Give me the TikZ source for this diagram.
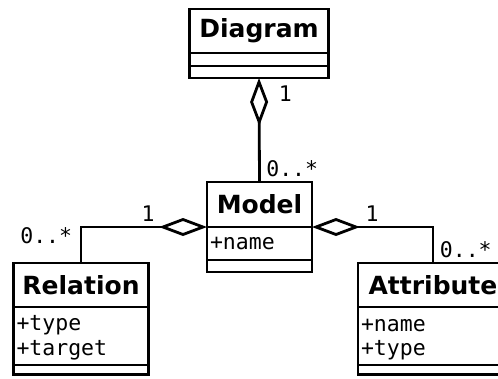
\documentclass[tikz,border=0pt]{standalone}
\usepackage{fontspec}
\setmainfont{DejaVu Sans}
\setmonofont{DejaVu Sans Mono}
\usetikzlibrary{arrows.meta, positioning}

\begin{document}
\begin{tikzpicture}[x=1pt, y=-1pt, line width=2.8pt,
  cname/.style={draw, outer sep=0pt, inner sep=0pt, font=\bfseries\fontsize{25}{29}\selectfont},
  cattr/.style={draw, outer sep=0pt, inner xsep=3pt, inner ysep=0pt, align=left, font=\ttfamily\fontsize{21.5}{24.5}\selectfont},
  cops/.style={draw, outer sep=0pt, inner sep=0pt, minimum height=12pt},
  aggr/.style={{Diamond[open, length=48pt, width=18pt]}-},
  mult/.style={inner sep=0pt, font=\ttfamily\fontsize{21.5}{24.5}\selectfont}]

\useasboundingbox (0,0) rectangle (498,378);
\clip (0,0) rectangle (498,378);

% ---------- Diagram ----------
\node[cname, minimum width=139pt, minimum height=44pt] (diagram) at (259,31) {Diagram};
\node[cops, minimum width=139pt, minimum height=13pt, below=0pt of diagram] (diagram-attr) {};
\node[cops, minimum width=139pt, below=0pt of diagram-attr] (diagram-ops) {};

% ---------- Model ----------
\node[cname, minimum width=105pt, minimum height=45pt] (model) at (259.5,204.5) {Model};
\node[cattr, text width=99pt, minimum width=105pt, minimum height=33pt, below=0pt of model] (model-attr) {+name};
\node[cops, minimum width=105pt, below=0pt of model-attr] (model-ops) {};

% ---------- Relation ----------
\node[cname, minimum width=135pt, minimum height=44pt] (relation) at (81,285) {Relation};
\node[cattr, text width=129pt, minimum width=135pt, minimum height=58pt, below=0pt of relation] (relation-attr) {\rule{0pt}{19pt}+type\\+target};
\node[cops, minimum width=135pt, minimum height=9.5pt, below=0pt of relation-attr] (relation-ops) {};

% ---------- Attribute (runs off the right edge) ----------
\node[cname, minimum width=150pt, minimum height=44pt] (attribute) at (433,285) {Attribute};
\node[cattr, text width=144pt, minimum width=150pt, minimum height=58pt, below=0pt of attribute] (attribute-attr) {\rule{0pt}{19pt}+name\\+type};
\node[cops, minimum width=150pt, minimum height=9.5pt, below=0pt of attribute-attr] (attribute-ops) {};

% ---------- aggregations ----------
\draw[aggr] (diagram-ops.south) -- (model.north)
  node[mult, pos=0.154, anchor=west, xshift=18.5pt] (diagram-one) {1}
  node[mult, pos=0.875, anchor=west, xshift=5.5pt] (diagram-many) {0..*};

\draw[aggr] (model.south west) -| (relation.north)
  node[mult, pos=0.234, yshift=13pt] (relation-one) {1}
  node[mult, pos=0.5, anchor=east, xshift=-7.5pt, yshift=-9pt] (relation-many) {0..*};

\draw[aggr] (model.south east) -| (attribute.north)
  node[mult, pos=0.248, yshift=13pt] (attribute-one) {1}
  node[mult, pos=0.82, anchor=west, xshift=5.5pt] (attribute-many) {0..*};

\end{tikzpicture}
\end{document}
